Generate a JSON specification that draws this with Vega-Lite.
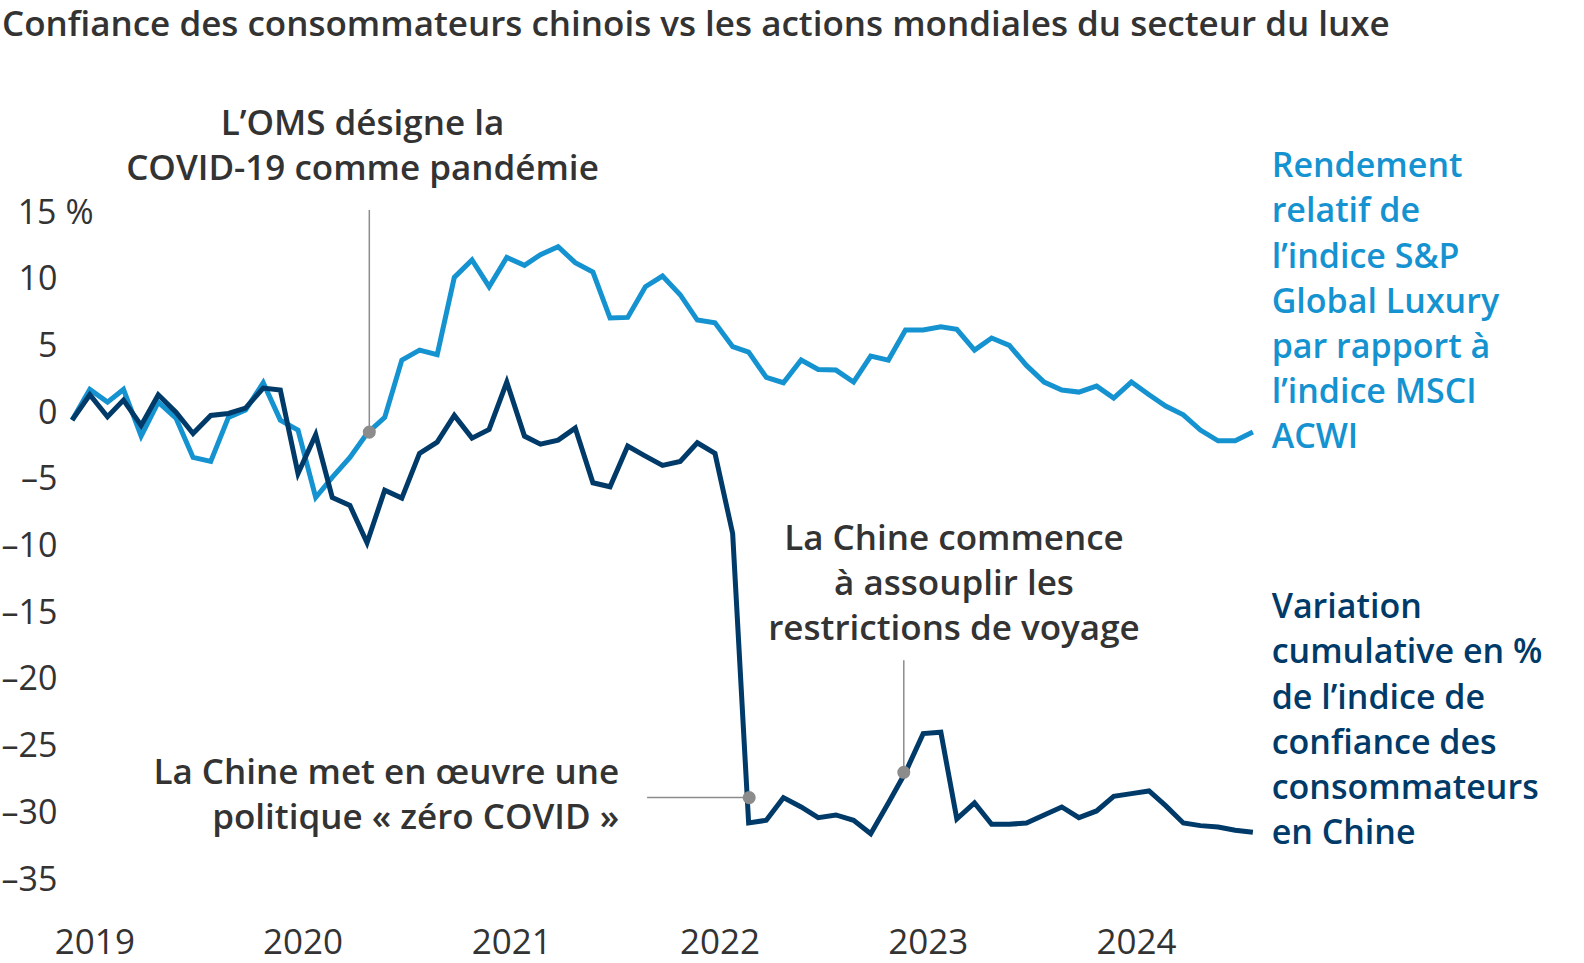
{
  "$schema": "https://vega.github.io/schema/vega-lite/v6.json",
  "width": 1195,
  "height": 667,
  "autosize": {"type": "none"},
  "padding": {"left": 67, "top": 220, "right": 322, "bottom": 76},
  "background": "white",
  "title": {
    "text": "Confiance des consommateurs chinois vs les actions mondiales du secteur du luxe",
    "anchor": "start",
    "frame": "group",
    "orient": "top",
    "offset": 64,
    "dx": -65,
    "limit": 2000,
    "font": "Open Sans",
    "fontWeight": 600,
    "fontSize": 35,
    "color": "#333333"
  },
  "config": {
    "view": {"stroke": null},
    "font": "Open Sans"
  },
  "datasets": {
    "series": [
      {"date": "2018-12-01", "luxe": 0, "conf": 0},
      {"date": "2019-01-01", "luxe": 2.3, "conf": 1.9},
      {"date": "2019-02-01", "luxe": 1.35, "conf": 0.25},
      {"date": "2019-03-01", "luxe": 2.3, "conf": 1.5},
      {"date": "2019-04-01", "luxe": -1.2, "conf": -0.4},
      {"date": "2019-05-01", "luxe": 1.35, "conf": 1.9},
      {"date": "2019-06-01", "luxe": 0.15, "conf": 0.6},
      {"date": "2019-07-01", "luxe": -2.8, "conf": -1.0},
      {"date": "2019-08-01", "luxe": -3.1, "conf": 0.35},
      {"date": "2019-09-01", "luxe": 0.2, "conf": 0.5},
      {"date": "2019-10-01", "luxe": 0.75, "conf": 0.9},
      {"date": "2019-11-01", "luxe": 2.8, "conf": 2.4},
      {"date": "2019-12-01", "luxe": 0, "conf": 2.25},
      {"date": "2020-01-01", "luxe": -0.75, "conf": -4.0},
      {"date": "2020-02-01", "luxe": -5.8, "conf": -1.1},
      {"date": "2020-03-01", "luxe": -4.3, "conf": -5.8},
      {"date": "2020-04-01", "luxe": -2.8, "conf": -6.4},
      {"date": "2020-05-01", "luxe": -1.0, "conf": -9.2},
      {"date": "2020-06-01", "luxe": 0.2, "conf": -5.25},
      {"date": "2020-07-01", "luxe": 4.5, "conf": -5.85},
      {"date": "2020-08-01", "luxe": 5.25, "conf": -2.5},
      {"date": "2020-09-01", "luxe": 4.9, "conf": -1.65},
      {"date": "2020-10-01", "luxe": 10.7, "conf": 0.35},
      {"date": "2020-11-01", "luxe": 12.0, "conf": -1.35},
      {"date": "2020-12-01", "luxe": 10.0, "conf": -0.7},
      {"date": "2021-01-01", "luxe": 12.2, "conf": 2.85},
      {"date": "2021-02-01", "luxe": 11.6, "conf": -1.2},
      {"date": "2021-03-01", "luxe": 12.4, "conf": -1.8},
      {"date": "2021-04-01", "luxe": 13.0, "conf": -1.5},
      {"date": "2021-05-01", "luxe": 11.8, "conf": -0.6},
      {"date": "2021-06-01", "luxe": 11.1, "conf": -4.7},
      {"date": "2021-07-01", "luxe": 7.65, "conf": -5.0},
      {"date": "2021-08-01", "luxe": 7.7, "conf": -1.95},
      {"date": "2021-09-01", "luxe": 10.0, "conf": -2.7},
      {"date": "2021-10-01", "luxe": 10.8, "conf": -3.4},
      {"date": "2021-11-01", "luxe": 9.4, "conf": -3.1},
      {"date": "2021-12-01", "luxe": 7.5, "conf": -1.7},
      {"date": "2022-01-01", "luxe": 7.3, "conf": -2.5},
      {"date": "2022-02-01", "luxe": 5.5, "conf": -8.5},
      {"date": "2022-03-01", "luxe": 5.1, "conf": -30.2},
      {"date": "2022-04-01", "luxe": 3.2, "conf": -30.0},
      {"date": "2022-05-01", "luxe": 2.8, "conf": -28.3},
      {"date": "2022-06-01", "luxe": 4.5, "conf": -29.0},
      {"date": "2022-07-01", "luxe": 3.8, "conf": -29.8},
      {"date": "2022-08-01", "luxe": 3.75, "conf": -29.6},
      {"date": "2022-09-01", "luxe": 2.85, "conf": -30.0},
      {"date": "2022-10-01", "luxe": 4.8, "conf": -31.0},
      {"date": "2022-11-01", "luxe": 4.5, "conf": -28.7},
      {"date": "2022-12-01", "luxe": 6.75, "conf": -26.4},
      {"date": "2023-01-01", "luxe": 6.75, "conf": -23.5},
      {"date": "2023-02-01", "luxe": 7.0, "conf": -23.4},
      {"date": "2023-03-01", "luxe": 6.8, "conf": -29.9},
      {"date": "2023-04-01", "luxe": 5.25, "conf": -28.7},
      {"date": "2023-05-01", "luxe": 6.15, "conf": -30.3},
      {"date": "2023-06-01", "luxe": 5.6, "conf": -30.3},
      {"date": "2023-07-01", "luxe": 4.1, "conf": -30.2},
      {"date": "2023-08-01", "luxe": 2.85, "conf": -29.6},
      {"date": "2023-09-01", "luxe": 2.25, "conf": -29.0},
      {"date": "2023-10-01", "luxe": 2.1, "conf": -29.8},
      {"date": "2023-11-01", "luxe": 2.55, "conf": -29.3},
      {"date": "2023-12-01", "luxe": 1.65, "conf": -28.2},
      {"date": "2024-01-01", "luxe": 2.85, "conf": -28.0},
      {"date": "2024-02-01", "luxe": 1.9, "conf": -27.8},
      {"date": "2024-03-01", "luxe": 1.05, "conf": -28.9},
      {"date": "2024-04-01", "luxe": 0.4, "conf": -30.2},
      {"date": "2024-05-01", "luxe": -0.75, "conf": -30.4},
      {"date": "2024-06-01", "luxe": -1.55, "conf": -30.5},
      {"date": "2024-07-01", "luxe": -1.55, "conf": -30.75},
      {"date": "2024-08-01", "luxe": -0.9, "conf": -30.9}
    ],
    "leaders": [
      {"x": "2020-05-05", "y": 15.75, "x2": "2020-05-05", "y2": -0.9},
      {"x": "2021-09-04", "y": -28.3, "x2": "2022-03-02", "y2": -28.3},
      {"x": "2022-11-28", "y": -18.0, "x2": "2022-11-28", "y2": -26.4}
    ],
    "dots": [
      {"date": "2020-05-05", "value": -0.9},
      {"date": "2022-03-02", "value": -28.3},
      {"date": "2022-11-28", "value": -26.4}
    ],
    "notes": [
      {"key": "oms", "date": "2020-04-23", "value": 21.4, "text": "L’OMS désigne la\nCOVID-19 comme pandémie"},
      {"key": "voyage", "date": "2023-02-24", "value": -9.75, "text": "La Chine commence\nà assouplir les\nrestrictions de voyage"},
      {"key": "zero", "date": "2021-07-17", "value": -27.3, "text": "La Chine met en œuvre une\npolitique « zéro COVID »"},
      {"key": "luxe", "date": "2024-09-03", "value": 18.2, "text": "Rendement\nrelatif de\nl’indice S&P\nGlobal Luxury\npar rapport à\nl’indice MSCI\nACWI"},
      {"key": "conf", "date": "2024-09-03", "value": -14.85, "text": "Variation\ncumulative en %\nde l’indice de\nconfiance des\nconsommateurs\nen Chine"}
    ]
  },
  "layer": [
    {
      "mark": {"type": "rule", "color": "#8c8c8c", "strokeWidth": 2},
      "encoding": {
        "y": {
          "datum": 0,
          "type": "quantitative",
          "scale": {"domain": [-35, 15], "nice": false, "zero": false},
          "axis": {
            "title": null,
            "values": [-35, -30, -25, -20, -15, -10, -5, 0, 5, 10, 15],
            "labelExpr": "datum.value == 15 ? '15 %' : replace(datum.label, '−', '–')",
            "domain": false,
            "ticks": false,
            "grid": false,
            "labelFont": "Open Sans",
            "labelFontSize": 34,
            "labelColor": "#333333",
            "labelAlign": "right",
            "labelBaseline": "alphabetic",
            "labelOffset": 3,
            "labelPadding": {"condition": {"test": "datum.value == 15", "value": -26}, "value": 10}
          }
        }
      }
    },
    {
      "data": {"name": "series"},
      "mark": {"type": "line", "color": "#1592d0", "strokeWidth": 5, "strokeJoin": "miter"},
      "encoding": {
        "x": {
          "field": "date",
          "type": "temporal",
          "scale": {"domain": ["2018-11-22", "2024-08-17"], "nice": false},
          "axis": {
            "title": null,
            "values": [
              {"year": 2019, "month": 1, "date": 9},
              {"year": 2020, "month": 1, "date": 9},
              {"year": 2021, "month": 1, "date": 9},
              {"year": 2022, "month": 1, "date": 9},
              {"year": 2023, "month": 1, "date": 9},
              {"year": 2024, "month": 1, "date": 9}
            ],
            "format": "%Y",
            "domain": false,
            "ticks": false,
            "grid": false,
            "labelFont": "Open Sans",
            "labelFontSize": 35,
            "labelColor": "#333333",
            "labelAlign": "center",
            "labelBaseline": "alphabetic",
            "labelPadding": 66,
            "labelFlush": false
          }
        },
        "y": {"field": "luxe", "type": "quantitative"}
      }
    },
    {
      "data": {"name": "series"},
      "mark": {"type": "line", "color": "#003a68", "strokeWidth": 5, "strokeJoin": "miter"},
      "encoding": {
        "x": {"field": "date", "type": "temporal"},
        "y": {"field": "conf", "type": "quantitative"}
      }
    },
    {
      "data": {"name": "leaders"},
      "mark": {"type": "rule", "color": "#8c8c8c", "strokeWidth": 1.5},
      "encoding": {
        "x": {"field": "x", "type": "temporal"},
        "x2": {"field": "x2"},
        "y": {"field": "y", "type": "quantitative"},
        "y2": {"field": "y2"}
      }
    },
    {
      "data": {"name": "dots"},
      "mark": {"type": "circle", "color": "#8c8c8c", "opacity": 1, "size": 170},
      "encoding": {
        "x": {"field": "date", "type": "temporal"},
        "y": {"field": "value", "type": "quantitative"}
      }
    },
    {
      "data": {"name": "notes"},
      "transform": [{"filter": "datum.key == 'oms' || datum.key == 'voyage'"}],
      "mark": {"type": "text", "align": "center", "baseline": "alphabetic", "lineBreak": "\n", "lineHeight": 45, "font": "Open Sans", "fontWeight": 600, "fontSize": 35, "color": "#333333"},
      "encoding": {
        "x": {"field": "date", "type": "temporal"},
        "y": {"field": "value", "type": "quantitative"},
        "text": {"field": "text"}
      }
    },
    {
      "data": {"name": "notes"},
      "transform": [{"filter": "datum.key == 'zero'"}],
      "mark": {"type": "text", "align": "right", "baseline": "alphabetic", "lineBreak": "\n", "lineHeight": 45, "font": "Open Sans", "fontWeight": 600, "fontSize": 35, "color": "#333333"},
      "encoding": {
        "x": {"field": "date", "type": "temporal"},
        "y": {"field": "value", "type": "quantitative"},
        "text": {"field": "text"}
      }
    },
    {
      "data": {"name": "notes"},
      "transform": [{"filter": "datum.key == 'luxe'"}],
      "mark": {"type": "text", "align": "left", "baseline": "alphabetic", "lineBreak": "\n", "lineHeight": 45.2, "font": "Open Sans", "fontWeight": 600, "fontSize": 34, "color": "#1592d0"},
      "encoding": {
        "x": {"field": "date", "type": "temporal"},
        "y": {"field": "value", "type": "quantitative"},
        "text": {"field": "text"}
      }
    },
    {
      "data": {"name": "notes"},
      "transform": [{"filter": "datum.key == 'conf'"}],
      "mark": {"type": "text", "align": "left", "baseline": "alphabetic", "lineBreak": "\n", "lineHeight": 45.2, "font": "Open Sans", "fontWeight": 600, "fontSize": 34, "color": "#003a68"},
      "encoding": {
        "x": {"field": "date", "type": "temporal"},
        "y": {"field": "value", "type": "quantitative"},
        "text": {"field": "text"}
      }
    }
  ]
}
